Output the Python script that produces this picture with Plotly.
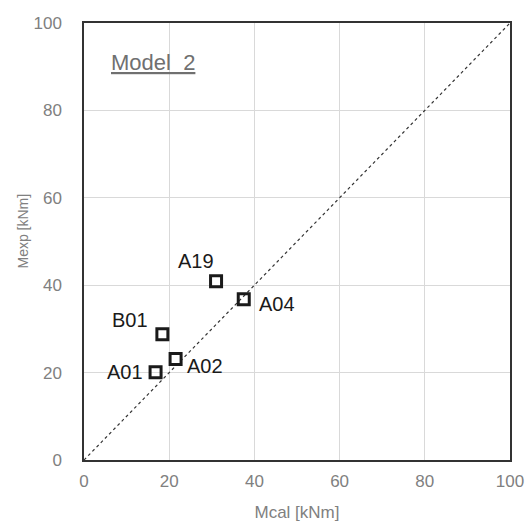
import plotly.graph_objects as go

# Data
labels = ["A01", "A02", "B01", "A19", "A04"]
mcal = [16.8, 21.5, 18.4, 31.0, 37.5]
mexp = [20.1, 23.1, 28.8, 40.9, 36.8]
ref_line = [0, 100]
tick_vals = [0, 20, 40, 60, 80, 100]

# Label offsets (style, pixels)
label_shift = {
    "A01": (-31, 0),
    "A02": (29, -7),
    "B01": (-32, 14),
    "A19": (-20, 20),
    "A04": (33, -5),
}

FONT = "Liberation Sans, Arial"

fig = go.Figure()
fig.add_trace(go.Scatter(
    x=ref_line, y=ref_line, mode="lines",
    line=dict(color="#333333", width=1.2, dash="3px,3px"),
    hoverinfo="skip", showlegend=False,
))
fig.add_trace(go.Scatter(
    x=mcal, y=mexp, mode="markers",
    marker=dict(symbol="square-open", size=11, color="#1a1a1a",
                line=dict(color="#1a1a1a", width=3)),
    showlegend=False,
))

for lab, xv, yv in zip(labels, mcal, mexp):
    dx, dy = label_shift[lab]
    fig.add_annotation(x=xv, y=yv, text=lab, showarrow=False,
                       xshift=dx, yshift=dy,
                       font=dict(family=FONT, size=20, color="#1a1a1a"))

fig.add_annotation(x=0.0587, y=0.91, xref="paper", yref="paper", text="<u>Model  2</u>",
                   showarrow=False, xanchor="left", yanchor="middle",
                   font=dict(family=FONT, size=22, color="#707070"))

fig.add_annotation(x=-0.143, y=0.523, xref="paper", yref="paper", text="Mexp [kNm]",
                   showarrow=False, textangle=-90, xanchor="center", yanchor="middle",
                   font=dict(family=FONT, size=14, color="#808080"))

axis_common = dict(
    range=[0, 100], tickvals=tick_vals, automargin=False,
    showgrid=True, gridcolor="#d9d9d9", gridwidth=1,
    zeroline=False, showline=True, linecolor="#333333", linewidth=1.5, mirror=True,
    ticks="outside", tickcolor="rgba(0,0,0,0)", ticklabeloverflow="allow",
    tickfont=dict(family=FONT, size=17, color="#808080"),
)

fig.update_xaxes(**axis_common, ticklen=5,
                 title=dict(text="Mcal [kNm]", standoff=16,
                            font=dict(family=FONT, size=17, color="#808080")))
fig.update_yaxes(**axis_common, ticklen=17)

fig.update_layout(
    width=526, height=527,
    margin=dict(l=84, r=16, t=23, b=67),
    paper_bgcolor="white", plot_bgcolor="white",
)

fig.write_html("out.html", config={"displayModeBar": False},
               post_script="document.body.style.margin='0';document.body.style.overflow='hidden';")
